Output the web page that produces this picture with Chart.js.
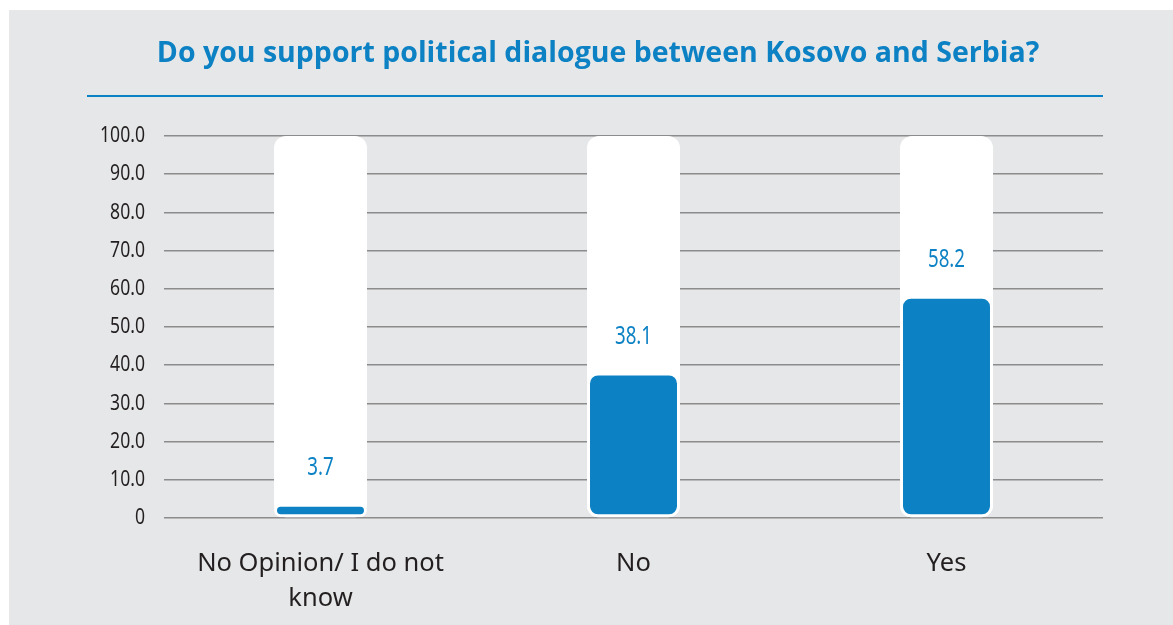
<!DOCTYPE html>
<html>
<head>
<meta charset="utf-8">
<script src="https://cdn.jsdelivr.net/npm/chart.js@4.4.1/dist/chart.umd.min.js"></script>
<style>
  html, body { margin: 0; padding: 0; background: #ffffff; }
  #wrap { position: absolute; left: 9px; top: 10px; width: 1164px; height: 615px; background: #e6e7e8; }
  canvas { display: block; }
</style>
</head>
<body>
<div id="wrap"><canvas id="c" width="1164" height="615"></canvas></div>
<script>
const chartTitle = "Do you support political dialogue between Kosovo and Serbia?";
const categories = [["No Opinion/ I do not", "know"], "No", "Yes"];
const values = [3.7, 38.1, 58.2];
const trackMax = [100, 100, 100];
const yTicks = [0, 10, 20, 30, 40, 50, 60, 70, 80, 90, 100];

const BLUE = '#0c81c4';
const SANS = "'Noto Sans', sans-serif";

const titlePlugin = {
  id: 'titleLine',
  afterDraw(chart) {
    const ctx = chart.ctx;
    ctx.save();
    ctx.fillStyle = BLUE;
    ctx.font = "bold 28.5px 'Open Sans', sans-serif";
    ctx.textAlign = 'center';
    ctx.textBaseline = 'middle';
    ctx.fillText(chartTitle, 589, 44);
    ctx.strokeStyle = BLUE;
    ctx.lineWidth = 2;
    ctx.beginPath();
    ctx.moveTo(78, 86);
    ctx.lineTo(1094, 86);
    ctx.stroke();
    ctx.restore();
  }
};

// Condensed look for the y-axis tick labels (horizontal squeeze around their right edge)
const condensedTicks = {
  id: 'condensedTicks',
  afterLayout(chart) {
    const s = chart.scales.y;
    if (!s || s._condensed) return;
    const orig = s.drawLabels.bind(s);
    s.drawLabels = function (area) {
      const ctx = this.ctx;
      const ax = this.right - this.options.ticks.padding;
      ctx.save();
      ctx.translate(ax, 0);
      ctx.scale(0.8, 1);
      ctx.translate(-ax, 0);
      orig(area);
      ctx.restore();
    };
    s._condensed = true;
  }
};

const labelPlugin = {
  id: 'valueLabels',
  afterDatasetsDraw(chart) {
    const ctx = chart.ctx;
    const meta = chart.getDatasetMeta(0);
    meta.data.forEach((bar, i) => {
      ctx.save();
      ctx.fillStyle = BLUE;
      ctx.font = "26px " + SANS;
      ctx.textAlign = 'center';
      ctx.textBaseline = 'middle';
      ctx.translate(bar.x, bar.y - 36);
      ctx.scale(0.72, 1);
      ctx.fillText(values[i].toFixed(1), 0, 0);
      ctx.restore();
    });
  }
};

new Chart(document.getElementById('c'), {
  type: 'bar',
  data: {
    labels: categories,
    datasets: [
      {
        data: values,
        backgroundColor: BLUE,
        borderColor: '#ffffff',
        borderWidth: 3,
        borderRadius: 11,
        borderSkipped: false,
        barPercentage: 0.297,
        categoryPercentage: 1.0,
        grouped: false,
        order: 0
      },
      {
        data: trackMax,
        backgroundColor: '#ffffff',
        borderWidth: 0,
        borderRadius: 12,
        borderSkipped: false,
        barPercentage: 0.297,
        categoryPercentage: 1.0,
        grouped: false,
        order: 1
      }
    ]
  },
  options: {
    responsive: false,
    animation: false,
    devicePixelRatio: 1,
    layout: { padding: { top: 126, right: 70, left: 0, bottom: 0 } },
    plugins: { legend: { display: false }, tooltip: { enabled: false }, title: { display: false } },
    scales: {
      x: {
        grid: { display: false },
        border: { display: false },
        ticks: {
          color: '#231f20',
          font: { family: SANS, size: 25.5, lineHeight: 1.38 },
          padding: 20,
          maxRotation: 0,
          autoSkip: false
        },
        afterFit(s) { s.height = 107; }
      },
      y: {
        min: 0,
        max: 100,
        afterBuildTicks(s) { s.ticks = yTicks.map(v => ({ value: v })); },
        grid: { color: '#8c8c8c', lineWidth: 1.5, drawTicks: false },
        border: { display: false },
        ticks: {
          color: '#231f20',
          font: { family: SANS, size: 22 },
          padding: 19,
          callback: v => v === 0 ? '0' : v.toFixed(1)
        },
        afterFit(s) { s.width = 155; }
      }
    }
  },
  plugins: [condensedTicks, titlePlugin, labelPlugin]
});
</script>
</body>
</html>
